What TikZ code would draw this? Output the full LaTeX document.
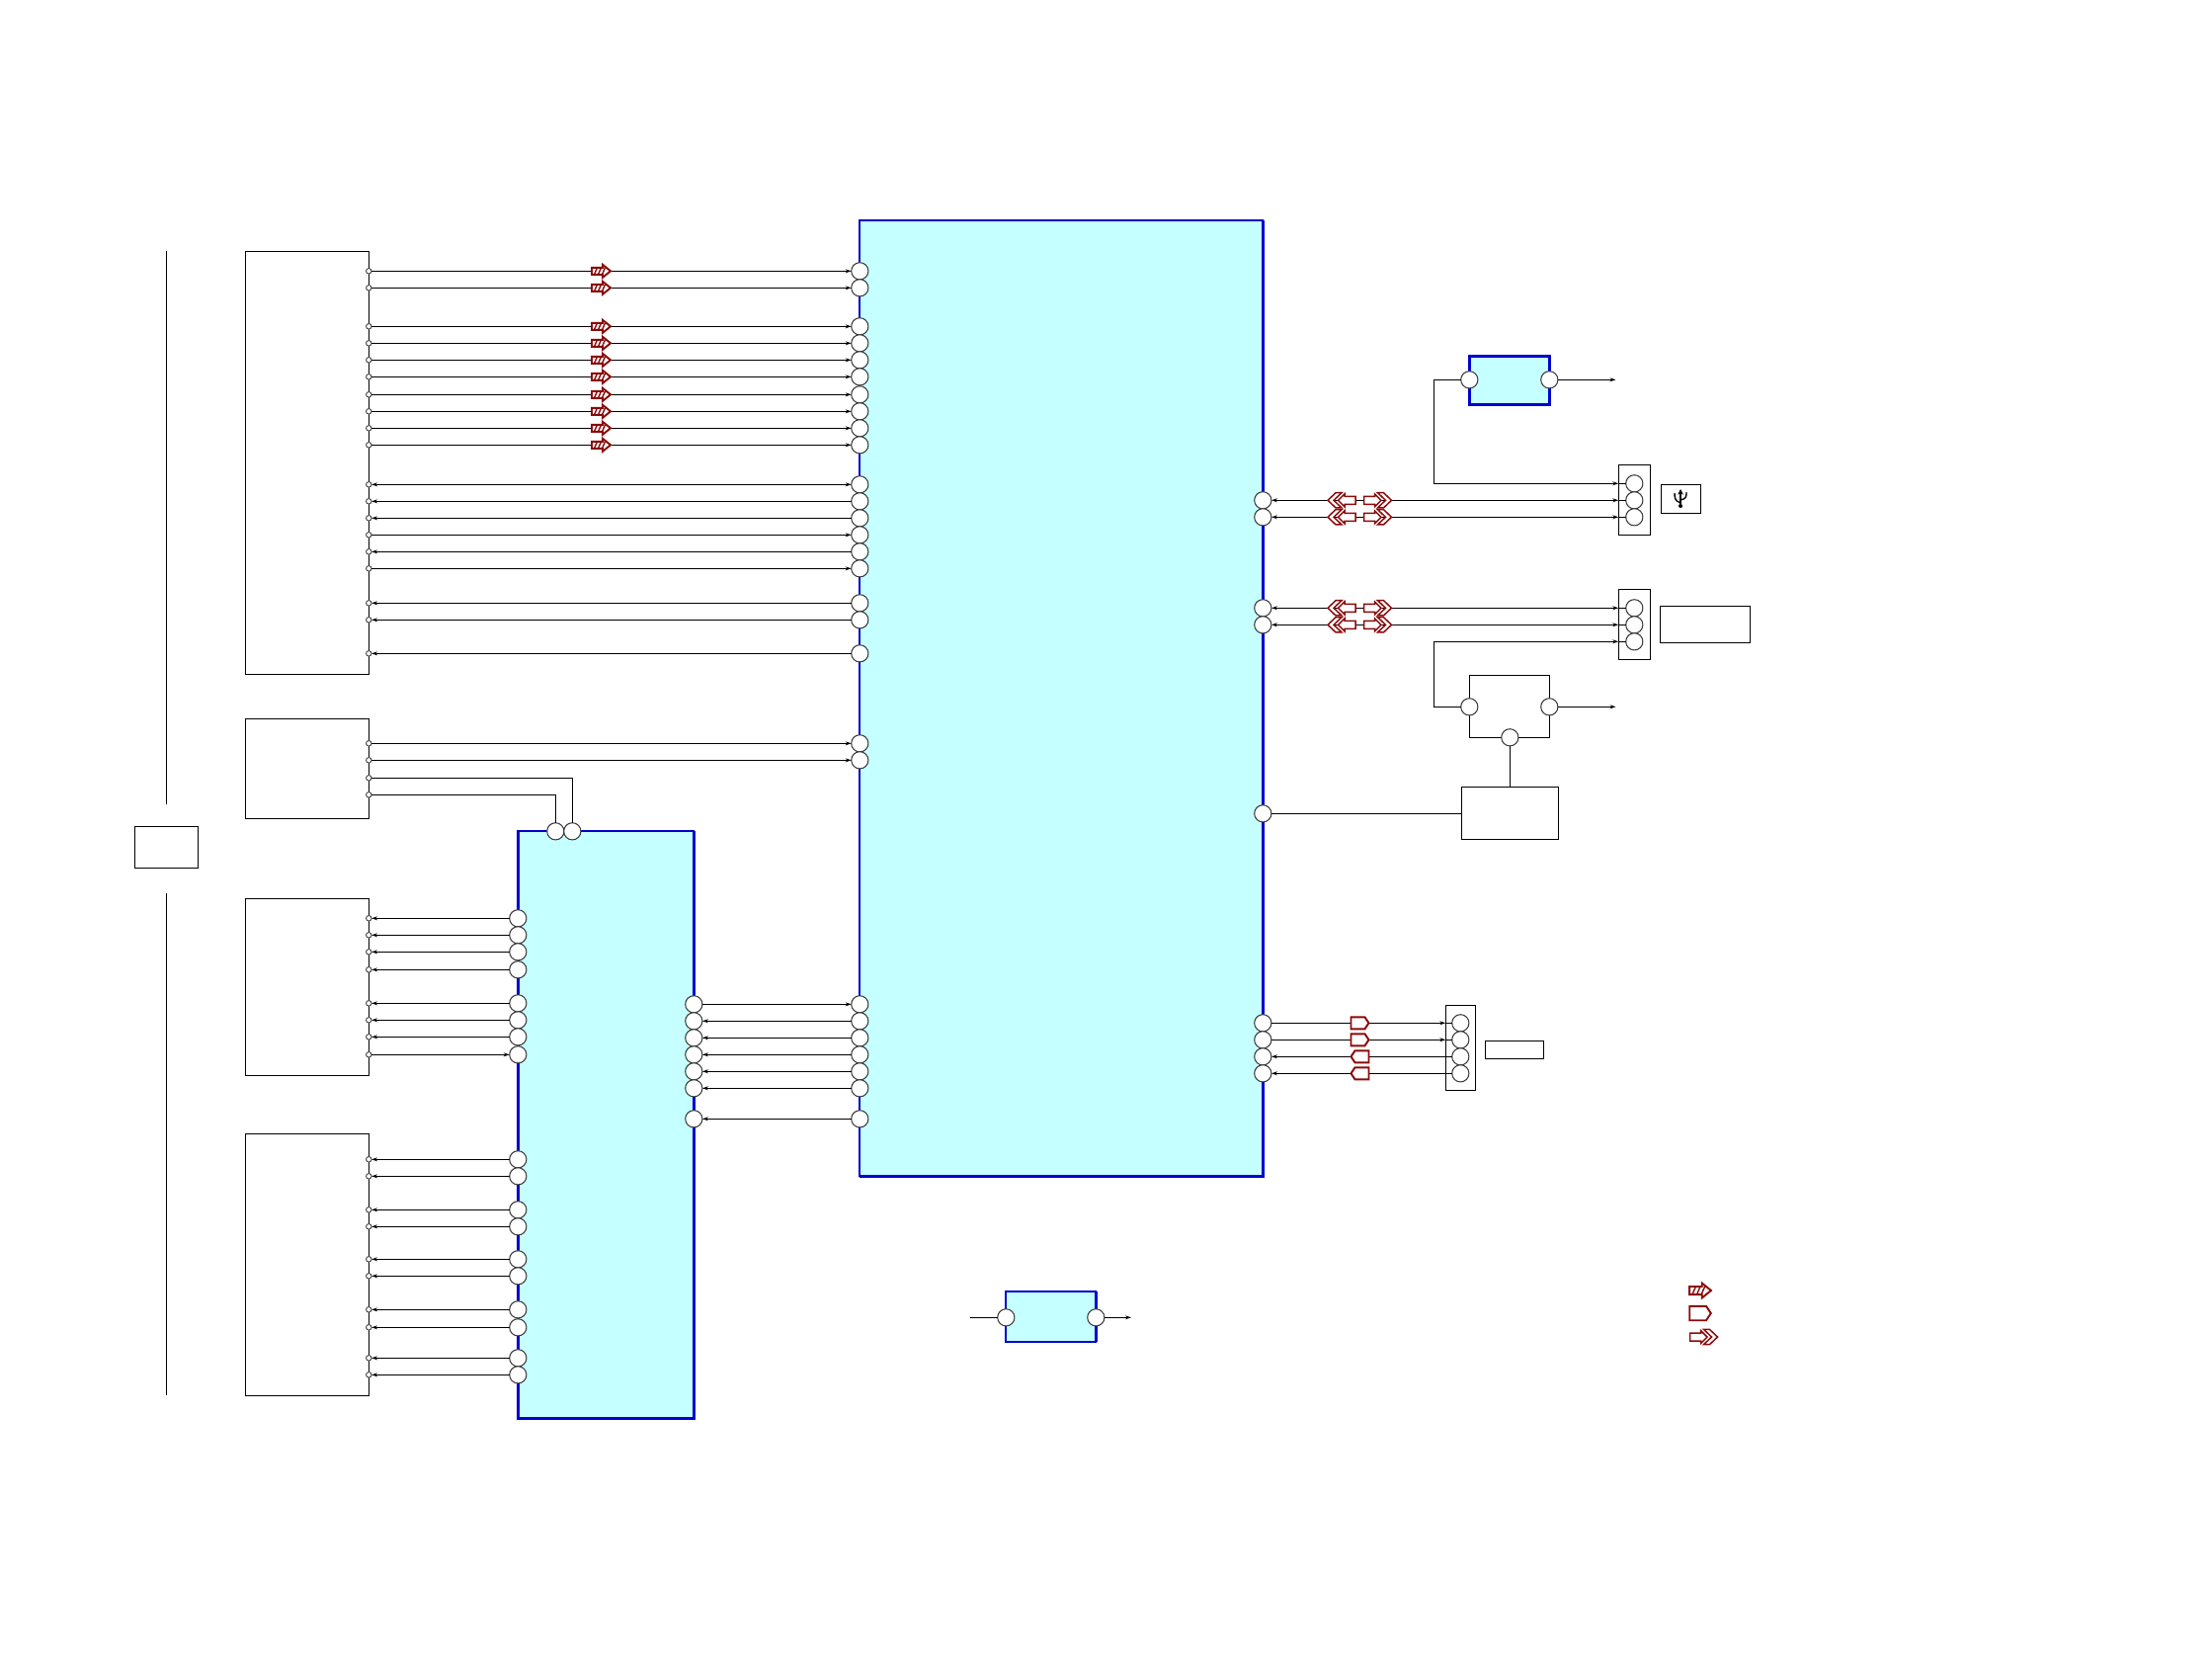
\documentclass[tikz,border=0pt]{standalone}
\usepackage{tikz}
\usetikzlibrary{arrows.meta,calc}
\definecolor{icblue}{RGB}{0,0,205}
\definecolor{iccyan}{RGB}{198,255,255}
\definecolor{markred}{RGB}{139,10,10}
\definecolor{portgray}{RGB}{60,60,60}

\begin{document}
\begin{tikzpicture}[
  x=0.01cm, y=-0.01cm,
  plainbox/.style={draw, line width=0.4pt, inner sep=0pt, outer sep=0pt},
  blueblock/.style={draw=icblue, fill=iccyan, line width=0.5pt, inner sep=0pt, outer sep=0pt},
  port/.style={circle, draw=portgray, fill=white, line width=0.3pt, minimum size=0.172cm, inner sep=0pt, outer sep=0pt},
  tinyport/.style={circle, draw=portgray, fill=white, line width=0.25pt, minimum size=0.055cm, inner sep=0pt, outer sep=0pt},
  wire/.style={line width=0.38pt},
  arr/.style={wire, -{Stealth[length=1.7pt,width=1.1pt]}},
  arrback/.style={wire, {Stealth[length=1.7pt,width=1.1pt]}-},
  arrboth/.style={wire, {Stealth[length=1.7pt,width=1.1pt]}-{Stealth[length=1.7pt,width=1.1pt]}},
  thickedge/.style={draw=icblue, line width=0.75pt},
  markline/.style={draw=markred, fill=white, line width=0.55pt, line join=miter},
  hatchmark/.pic={
    \path[markline] (-9.5,-3.5) -- (1.5,-3.5) -- (1.5,-6.5) -- (9.5,0) -- (1.5,6.5) -- (1.5,3.5) -- (-9.5,3.5) -- cycle;
    \foreach \s in {-7,-3,1} \draw[markred, line width=0.4pt] (\s,3.5) -- (\s+3,-3.5);
  },
  pentmark/.pic={
    \path[markline] (-9,-6) -- (5,-6) -- (9,0) -- (5,6) -- (-9,6) -- cycle;
  },
  chevmark/.pic={
    \path[markline, line width=0.42pt] (-14,-4) -- (-3,-4) -- (-3,-6.5) -- (3.5,0) -- (-3,6.5) -- (-3,4) -- (-14,4) -- cycle;
    \path[markline, line width=0.42pt] (0,-7.6) -- (6,-7.6) -- (14,0) -- (6,7.6) -- (0,7.6) -- (8,0) -- cycle;
  }
]
\useasboundingbox (0,0) rectangle (2239,1684);

% left boxes
\node[plainbox, minimum width=1.25cm, minimum height=4.28cm] (boxa) at (310.8,468.4) {};
\node[plainbox, minimum width=1.25cm, minimum height=1.01cm] (boxb) at (310.8,777.8) {};
\node[plainbox, minimum width=1.25cm, minimum height=1.79cm] (boxc) at (310.8,998.8) {};
\node[plainbox, minimum width=1.25cm, minimum height=2.65cm] (boxd) at (310.8,1279.8) {};
\node[plainbox, minimum width=0.64cm, minimum height=0.42cm] (frontbox) at (168.3,857.3) {};
\coordinate (railatop) at (168.3,254.3);
\coordinate (railabot) at (168.3,814.3);
\coordinate (railbtop) at (168.3,904.3);
\coordinate (railbbot) at (168.3,1412.3);
\draw[wire] (railatop) -- (railabot);
\draw[wire] (railbtop) -- (railbbot);

% blue blocks
\node[blueblock, minimum width=4.08cm, minimum height=9.67cm] (main) at (1074.3,706.8) {};
\node[blueblock, minimum width=1.78cm, minimum height=5.94cm] (sub) at (613.3,1138.3) {};
\node[blueblock, line width=0.75pt, minimum width=0.81cm, minimum height=0.49cm] (ictop) at (1527.8,384.8) {};
\node[blueblock, minimum width=0.91cm, minimum height=0.51cm] (icbot) at (1063.8,1332.8) {};
\draw[thickedge] (main.north east) -- (main.south east) -- (main.south west);
\draw[thickedge] (sub.north west) -- (sub.south west) -- (sub.south east) -- (sub.north east);
\draw[thickedge] (icbot.north east) -- (icbot.south east);

% right hand boxes
\node[plainbox, minimum width=0.81cm, minimum height=0.63cm] (swbox) at (1527.8,714.8) {};
\node[plainbox, minimum width=0.98cm, minimum height=0.53cm] (drvbox) at (1528.3,822.8) {};
\node[plainbox, minimum width=0.32cm, minimum height=0.71cm] (usbconn) at (1654.3,505.8) {};
\node[plainbox, minimum width=0.32cm, minimum height=0.71cm] (cardconn) at (1654.3,631.8) {};
\node[plainbox, minimum width=0.30cm, minimum height=0.86cm] (audioconn) at (1478.3,1060.3) {};
\node[plainbox, minimum width=0.40cm, minimum height=0.29cm] (usbbox) at (1701.3,504.8) {};
\node[plainbox, minimum width=0.91cm, minimum height=0.37cm] (cardbox) at (1725.8,631.8) {};
\node[plainbox, minimum width=0.59cm, minimum height=0.18cm] (audiobox) at (1532.8,1062.3) {};

% usb sign
\draw[line width=0.4pt, -{Stealth[length=1.6pt,width=1.6pt]}] (1701,512) -- (1701,495);
\draw[line width=0.4pt] (1701,509) .. controls (1695,507) and (1695,503) .. (1695,499);
\draw[line width=0.4pt] (1701,506) .. controls (1707,505) and (1707,502) .. (1707,498);
\fill (1701,512) circle (2);

% ports of the first two boxes and the main block
\foreach \n/\y in {1/274.3,2/291.3,3/330.3,4/347.3,5/364.3,6/381.3,7/399.3,8/416.3,9/433.3,10/450.3,
    11/490.3,12/507.3,13/524.3,14/541.3,15/558.3,16/575.3,17/610.3,18/627.3,19/661.3,20/752.3,21/769.3}{
  \node[tinyport] (a\n) at (373.3,\y) {};
  \node[port] (m\n) at (870.3,\y) {};
}
\node[tinyport] (a22) at (373.3,787.3) {};
\node[tinyport] (a23) at (373.3,804.3) {};
\node[port] (st1) at (562.3,841.3) {};
\node[port] (st2) at (579.3,841.3) {};

% ports between boxes and sub block
\foreach \n/\y in {1/929.3,2/946.3,3/963.3,4/981.3,5/1015.3,6/1032.3,7/1049.3,8/1067.3,
    9/1173.3,10/1190.3,11/1224.3,12/1241.3,13/1274.3,14/1291.3,15/1325.3,16/1343.3,17/1374.3,18/1391.3}{
  \node[tinyport] (c\n) at (373.3,\y) {};
  \node[port] (sl\n) at (524.3,\y) {};
}

% ports between sub block and main block
\foreach \n/\y in {1/1016.3,2/1033.3,3/1050.3,4/1067.3,5/1084.3,6/1101.3,7/1132.3}{
  \node[port] (sr\n) at (702.3,\y) {};
  \node[port] (mb\n) at (870.3,\y) {};
}

% ports on the right
\node[port] (r1) at (1278.3,506.3) {};
\node[port] (r2) at (1278.3,523.3) {};
\node[port] (r3) at (1278.3,615.3) {};
\node[port] (r4) at (1278.3,632.3) {};
\node[port] (r5) at (1278.3,823.3) {};
\node[port] (r6) at (1278.3,1035.3) {};
\node[port] (r7) at (1278.3,1052.3) {};
\node[port] (r8) at (1278.3,1069.3) {};
\node[port] (r9) at (1278.3,1086.3) {};
\node[port] (u1) at (1654.3,489.3) {};
\node[port] (u2) at (1654.3,506.3) {};
\node[port] (u3) at (1654.3,523.3) {};
\node[port] (k1) at (1654.3,615.3) {};
\node[port] (k2) at (1654.3,632.3) {};
\node[port] (k3) at (1654.3,649.3) {};
\node[port] (au1) at (1478.3,1035.3) {};
\node[port] (au2) at (1478.3,1052.3) {};
\node[port] (au3) at (1478.3,1069.3) {};
\node[port] (au4) at (1478.3,1086.3) {};
\node[port] (tl) at (1487.3,384.3) {};
\node[port] (tr) at (1568.3,384.3) {};
\node[port] (wl) at (1487.3,715.3) {};
\node[port] (wr) at (1568.3,715.3) {};
\node[port] (wb) at (1528.3,746.3) {};
\node[port] (bl) at (1018.3,1333.3) {};
\node[port] (br) at (1109.3,1333.3) {};
\coordinate (topout) at (1635.5,384.3);
\coordinate (swout) at (1635.5,715.3);
\coordinate (botin) at (982.3,1333.3);
\coordinate (botout) at (1145,1333.3);
\coordinate (joga) at (1451.3,430);
\coordinate (jogb) at (1451.3,680);

% wires
\foreach \n in {1,...,10,14,16,20,21} \draw[arr] (a\n) -- (m\n);
\foreach \n in {12,13,15,17,18,19} \draw[arrback] (a\n) -- (m\n);
\draw[arrboth] (a11) -- (m11);
\draw[wire] (a22.east) -| (st2.north);
\draw[wire] (a23.east) -| (st1.north);
\foreach \n in {1,...,7,9,10,...,18} \draw[arrback] (c\n) -- (sl\n);
\draw[arr] (c8) -- (sl8);
\draw[arr] (sr1) -- (mb1);
\foreach \n in {2,...,7} \draw[arrback] (sr\n) -- (mb\n);

\draw[arrboth] (r1) -- (usbconn.west |- r1);
\draw[wire] (usbconn.west |- r1) -- (u2);
\draw[arrboth] (r2) -- (usbconn.west |- r2);
\draw[wire] (usbconn.west |- r2) -- (u3);
\draw[arrboth] (r3) -- (cardconn.west |- r3);
\draw[wire] (cardconn.west |- r3) -- (k1);
\draw[arrboth] (r4) -- (cardconn.west |- r4);
\draw[wire] (cardconn.west |- r4) -- (k2);
\draw[arr] (tl.west) -| (joga) |- (usbconn.west |- u1);
\draw[wire] (usbconn.west |- u1) -- (u1);
\draw[arr] (wl.west) -| (jogb) |- (cardconn.west |- k3);
\draw[wire] (cardconn.west |- k3) -- (k3);
\draw[arr] (tr) -- (topout);
\draw[arr] (wr) -- (swout);
\draw[wire] (wb) -- (drvbox.north);
\draw[wire] (r5) -- (drvbox.west |- r5);
\draw[arr] (r6) -- (audioconn.west |- r6);
\draw[wire] (audioconn.west |- r6) -- (au1);
\draw[arr] (r7) -- (audioconn.west |- r7);
\draw[wire] (audioconn.west |- r7) -- (au2);
\draw[arrback] (r8) -- (au3);
\draw[arrback] (r9) -- (au4);
\draw[wire] (botin) -- (bl);
\draw[arr] (br) -- (botout);

% red signal marks
\foreach \y in {274.3,291.3,330.3,347.3,364.3,381.3,399.3,416.3,433.3,450.3}
  \pic at (608.5,\y) {hatchmark};
\foreach \y in {506.3,523.3,615.3,632.3}{
  \pic[xscale=-1] at (1358,\y) {chevmark};
  \pic at (1394.5,\y) {chevmark};
}
\foreach \y in {1035.3,1052.3} \pic at (1376.5,\y) {pentmark};
\foreach \y in {1069.3,1086.3} \pic[xscale=-1] at (1376.5,\y) {pentmark};
\pic[scale=1.15] at (1721,1306) {hatchmark};
\pic[scale=1.2] at (1721,1329) {pentmark};
\pic at (1724.5,1353) {chevmark};
\end{tikzpicture}
\end{document}
